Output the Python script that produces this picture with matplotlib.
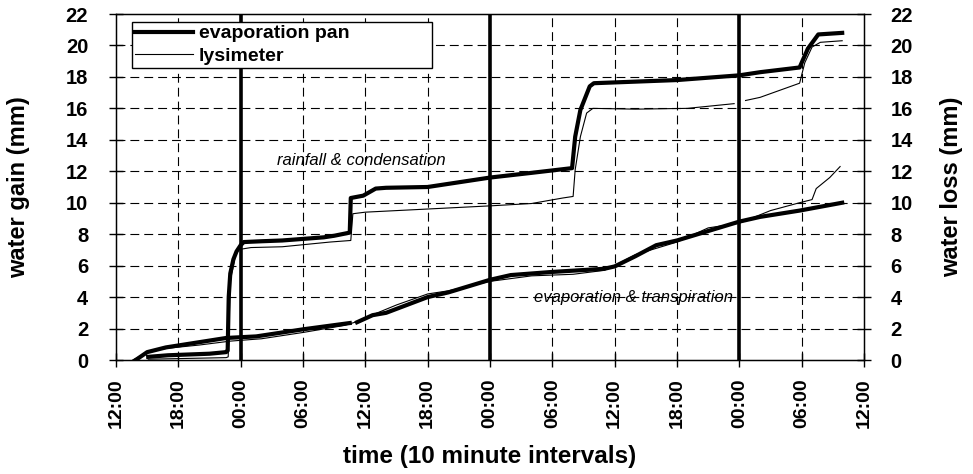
import matplotlib.pyplot as plt
import numpy as np

# 字体：Arial 风格粗体
plt.rcParams['font.family'] = ['Liberation Sans', 'DejaVu Sans']
plt.rcParams['font.weight'] = 'bold'
plt.rcParams['axes.unicode_minus'] = False

# 时间轴（小时，0 = 第一天 12:00）
tick_hours = np.arange(0, 73, 6)
tick_labels = ['12:00', '18:00', '00:00', '06:00', '12:00', '18:00', '00:00',
               '06:00', '12:00', '18:00', '00:00', '06:00', '12:00']
midnights = [12, 36, 60]

# 蒸发皿 —— 降雨 & 凝结（累积增益）
pan_gain_h = [3.1, 5, 7, 9, 10.6, 10.75, 10.85, 11.0, 11.3, 11.6, 12.0, 12.3, 14, 16, 18, 20, 21, 22.5,
              22.6, 23.8, 25.0, 26, 30, 33, 36, 40, 43.9, 44.2, 44.7, 45.6, 46.0, 50, 54, 60, 62, 65.8,
              66.6, 67.6, 69.9]
pan_gain = [0.2, 0.3, 0.35, 0.4, 0.5, 0.6, 4.0, 5.5, 6.4, 6.9, 7.3, 7.5, 7.55, 7.6, 7.7, 7.8, 7.9, 8.1,
            10.3, 10.45, 10.9, 10.95, 11.0, 11.3, 11.6, 11.9, 12.2, 14.2, 15.9, 17.4, 17.6, 17.7, 17.8, 18.1, 18.3, 18.6,
            19.8, 20.7, 20.8]

# 蒸渗仪 —— 降雨 & 凝结
lys_gain_h = [3.1, 10.6, 10.8, 11.0, 11.6, 13.0, 16, 20.6, 22.6, 22.8, 24, 30, 36, 40, 43, 44.0, 44.2,
              44.7, 45.3, 45.9, 50, 55, 59.5, 59.6, 60.6, 62, 65.8, 66.3, 67.0, 67.8, 69.9]
lys_gain = [0.05, 0.15, 0.2, 5.0, 7.0, 7.15, 7.2, 7.5, 7.6, 9.3, 9.4, 9.6, 9.8, 9.95, 10.3, 10.4, 12.1,
            14.2, 15.7, 16.0, 15.95, 16.0, 16.3, np.nan, 16.5, 16.7, 17.6, 18.9, 19.9, 20.2, 20.3]

# 蒸发皿 —— 蒸发 & 蒸腾（累积损失）
pan_loss_h = [1.9, 3.0, 4.8, 7.7, 10.6, 13.5, 18, 22.5, 22.8, 23.2, 24.7, 26, 28, 30, 32, 34, 36, 38,
              42, 47, 48, 50, 52, 54, 56, 58, 60, 62, 65.8, 69.9]
pan_loss = [0.0, 0.5, 0.8, 1.1, 1.4, 1.5, 1.95, 2.35, np.nan, 2.4, 2.85, 3.0, 3.5, 4.0, 4.3, 4.7, 5.1, 5.4,
            5.6, 5.8, 5.95, 6.6, 7.3, 7.6, 8.0, 8.4, 8.8, 9.1, 9.5, 10.0]

# 蒸渗仪 —— 蒸发 & 蒸腾
lys_loss_h = [1.6, 2.5, 3.5, 5, 8, 11, 14, 18, 22, 23.5, 24.8, 27, 30, 32, 36, 40, 44, 47, 48, 50,
              54, 57, 60, 63, 65.8, 67.0, 67.4, 68.7, 69.7]
lys_loss = [0.0, 0.3, 0.6, 0.75, 0.95, 1.2, 1.35, 1.75, 2.2, 2.5, 2.9, 3.5, 4.2, 4.4, 5.0, 5.35, 5.45, 5.7, 6.0, 6.7,
            7.5, 8.4, 8.7, 9.5, 10.0, 10.2, 10.9, 11.6, 12.3]

fig = plt.figure(figsize=(9.73, 4.74), dpi=100)
ax = fig.add_axes([116 / 973, 1 - 360 / 474, 748 / 973, 346 / 474])

# 网格：虚线，午夜为粗实线
dash = (0, (8, 4.5))
for y in range(2, 22, 2):
    ax.axhline(y, color='black', lw=0.8, ls=dash, zorder=1)
for h in tick_hours[1:-1]:
    if h in midnights:
        ax.axvline(h, color='black', lw=2.6, zorder=2)
    else:
        ax.axvline(h, color='black', lw=0.8, ls=dash, zorder=1)

l_pan, = ax.plot(pan_gain_h, pan_gain, color='black', lw=3.0, zorder=4, label='evaporation pan')
l_lys, = ax.plot(lys_gain_h, lys_gain, color='black', lw=0.8, zorder=3, label='lysimeter')
ax.plot(pan_loss_h, pan_loss, color='black', lw=3.0, zorder=4)
ax.plot(lys_loss_h, lys_loss, color='black', lw=0.8, zorder=3)

ax.text(23.6, 12.7, 'rainfall & condensation', style='italic', weight='normal',
        fontsize=12, ha='center', va='center')
ax.text(49.8, 4.0, 'evaporation & transpiration', style='italic', weight='normal',
        fontsize=12, ha='center', va='center')

ax.set_xlim(0, 72)
ax.set_ylim(0, 22)
ax.set_xticks(tick_hours)
ax.set_xticklabels(tick_labels, rotation=90)
ax.set_yticks(range(0, 23, 2))
ax.tick_params(axis='y', direction='inout', length=10, width=1, labelsize=14.5, pad=15)
ax.tick_params(axis='x', direction='inout', length=10, width=1, labelsize=14, pad=8)
for s in ax.spines.values():
    s.set_linewidth(1.0)

ax_r = ax.twinx()
ax_r.set_ylim(0, 22)
ax_r.set_yticks(range(0, 23, 2))
ax_r.tick_params(axis='y', direction='inout', length=10, width=1, labelsize=14.5, pad=14)

ax.set_ylabel('water gain (mm)', fontsize=17, fontweight='bold')
ax.yaxis.set_label_coords(-0.115, 0.5)
ax_r.set_ylabel('water loss (mm)', fontsize=17, fontweight='bold')
ax_r.yaxis.set_label_coords(1.1016, 0.5)
ax.set_xlabel('time (10 minute intervals)', fontsize=17.5, fontweight='bold')
ax.xaxis.set_label_coords(0.5, -0.246)

leg = ax.legend(handles=[l_pan, l_lys], loc='upper left', mode='expand',
                bbox_to_anchor=(0.021, 0.835, 0.402, 0.142), fontsize=14,
                frameon=True, fancybox=False, edgecolor='black', framealpha=1,
                borderpad=0.15, labelspacing=0.25, handlelength=3.0, handletextpad=0.3,
                borderaxespad=0)
leg.get_frame().set_linewidth(1.0)

fig.savefig('out.png', dpi=100, facecolor='white')
